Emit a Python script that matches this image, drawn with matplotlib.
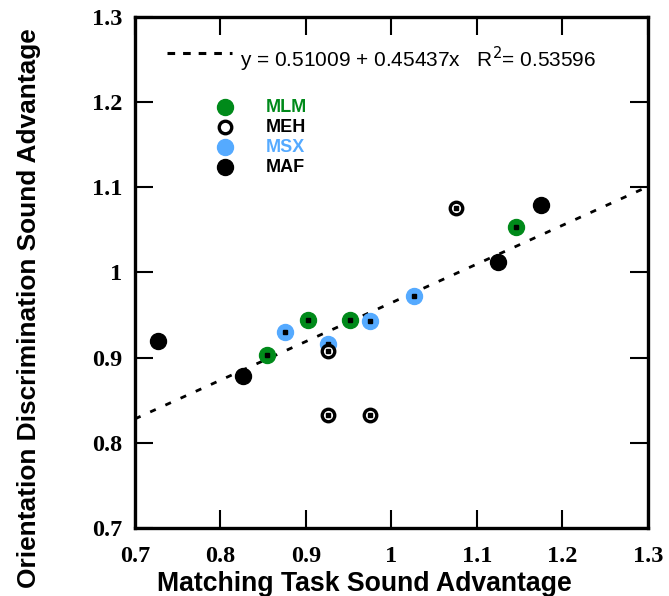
import numpy as np
import matplotlib.pyplot as plt

# data
mlm_x = [0.855, 0.903, 0.951, 1.146]
mlm_y = [0.903, 0.944, 0.944, 1.053]
meh_x = [0.926, 0.926, 0.975, 1.076]
meh_y = [0.908, 0.833, 0.833, 1.076]
msx_x = [0.876, 0.926, 0.975, 1.026]
msx_y = [0.930, 0.916, 0.943, 0.972]
maf_x = [0.727, 0.826, 1.125, 1.175]
maf_y = [0.920, 0.878, 1.012, 1.079]

fit_a = 0.51009
fit_b = 0.45437
fit_r2 = 0.53596

ticks = [0.7, 0.8, 0.9, 1.0, 1.1, 1.2, 1.3]
tick_labels = ["0.7", "0.8", "0.9", "1", "1.1", "1.2", "1.3"]

green = "#008a1a"
blue = "#55aaff"

fig = plt.figure(figsize=(6.69, 5.96), dpi=100)
ax = fig.add_axes([0.2018, 0.1141, 0.7665, 0.8574])

# regression line
xl = np.array([0.7, 1.3])
ax.plot(xl, fit_a + fit_b * xl, color="black", lw=2.0, ls=(0, (2.2, 3.8)), zorder=1)

ms = 11.5
ax.plot(mlm_x, mlm_y, "o", ms=ms, mfc=green, mec=green, zorder=3)
ax.plot(msx_x, msx_y, "o", ms=ms, mfc=blue, mec=blue, zorder=3)
ax.plot(maf_x, maf_y, "o", ms=ms, mfc="black", mec="black", zorder=3)
ax.plot(meh_x, meh_y, "o", ms=9, mfc="white", mec="black", mew=2.4, zorder=3)
# small centre dots
for xs, ys in [(mlm_x, mlm_y), (msx_x, msx_y), (meh_x, meh_y)]:
    ax.plot(xs, ys, "s", ms=2.2, color="black", zorder=4)

# legend drawn by hand
leg = [("MLM", green, green, green), ("MEH", "white", "black", "black"),
       ("MSX", blue, blue, blue), ("MAF", "black", "black", "black")]
for i, (name, fc, ec, tc) in enumerate(leg):
    yy = 1.194 - i * 0.0235
    if fc == "white":
        ax.plot(0.805, yy, "o", ms=9, mfc=fc, mec=ec, mew=2.4, clip_on=False)
    else:
        ax.plot(0.805, yy, "o", ms=ms, mfc=fc, mec=ec, clip_on=False)
    ax.text(0.853, yy, name, color=tc, fontsize=13, fontweight="bold",
            family="Liberation Sans", va="center")

# equation
ax.plot([0.737, 0.814], [1.2577, 1.2577], color="black", lw=2.2, ls=(0, (2.5, 2.6)))
ax.text(0.8225, 1.2413, "y = 0.51009 + 0.45437x   R$^2$= 0.53596",
        fontsize=15, family="Liberation Sans", va="baseline")

ax.set_xlim(0.7, 1.3)
ax.set_ylim(0.7, 1.3)
ax.set_xticks(ticks)
ax.set_xticklabels(tick_labels)
ax.set_yticks(ticks)
ax.set_yticklabels(tick_labels)
ax.tick_params(direction="in", length=13, width=1.5, top=True, right=True,
               labelsize=17.5)
ax.tick_params(axis="x", pad=13)
ax.tick_params(axis="y", pad=9)
for lab in ax.get_xticklabels() + ax.get_yticklabels():
    lab.set_family("Liberation Serif")
    lab.set_fontweight("bold")
for sp in ax.spines.values():
    sp.set_linewidth(2.4)

ax.set_xlabel("Matching Task Sound Advantage", fontsize=19.2, fontweight="bold",
              family="Liberation Sans")
ax.set_ylabel("Orientation Discrimination Sound Advantage", fontsize=18.9,
              fontweight="bold", family="Liberation Sans")
ax.xaxis.set_label_coords(0.4465, -0.084)
ax.yaxis.set_label_coords(-0.183, 0.4305)

fig.savefig("out.png", dpi=100)
